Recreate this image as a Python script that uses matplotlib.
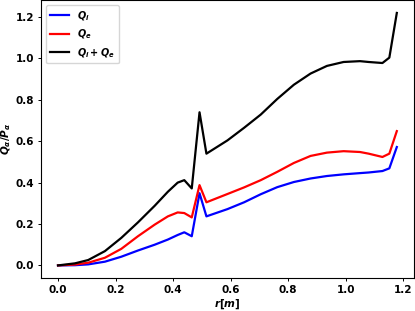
import numpy as np
import matplotlib
matplotlib.use("Agg")
import matplotlib.pyplot as plt

# ── Data ──────────────────────────────────
r = [0.0, 0.059, 0.105, 0.163, 0.220, 0.278, 0.336, 0.382, 0.416, 0.439,
     0.465, 0.492, 0.516, 0.589, 0.647, 0.705, 0.762, 0.820, 0.878, 0.935,
     0.993, 1.050, 1.080, 1.128, 1.152, 1.178]

q_i = [0.0, 0.001, 0.005, 0.018, 0.042, 0.072, 0.100, 0.125, 0.147, 0.160,
       0.141, 0.349, 0.237, 0.272, 0.305, 0.344, 0.378, 0.403, 0.420, 0.432,
       0.440, 0.446, 0.449, 0.456, 0.469, 0.572]

q_e = [0.0, 0.004, 0.013, 0.037, 0.080, 0.141, 0.197, 0.237, 0.256, 0.253,
       0.232, 0.388, 0.305, 0.345, 0.377, 0.412, 0.452, 0.495, 0.529, 0.545,
       0.552, 0.548, 0.540, 0.524, 0.540, 0.649]

q_tot = [0.0, 0.010, 0.026, 0.069, 0.133, 0.208, 0.288, 0.356, 0.400, 0.412,
         0.372, 0.740, 0.540, 0.604, 0.665, 0.729, 0.804, 0.873, 0.927, 0.964,
         0.983, 0.987, 0.983, 0.978, 1.004, 1.220]

# ── Style ─────────────────────────────────
plt.rcParams["font.weight"] = "bold"
plt.rcParams["axes.labelweight"] = "bold"
plt.rcParams["mathtext.fontset"] = "custom"
plt.rcParams["mathtext.it"] = "DejaVu Sans:italic:bold"
plt.rcParams["mathtext.rm"] = "DejaVu Sans:bold"
plt.rcParams["mathtext.bf"] = "DejaVu Sans:bold"

fig, ax = plt.subplots(figsize=(4.15, 3.11), dpi=100)
fig.subplots_adjust(left=0.099, right=0.997, bottom=0.106, top=0.999)

ax.plot(r, q_i, color="b", lw=1.6, label=r"$Q_i$")
ax.plot(r, q_e, color="r", lw=1.6, label=r"$Q_e$")
ax.plot(r, q_tot, color="k", lw=1.6, label=r"$Q_i+Q_e$")

ax.tick_params(labelsize=7.5, length=2.5, width=0.7, pad=2.5)
for s in ax.spines.values():
    s.set_linewidth(0.8)

ax.set_xlabel(r"$r[m]$", fontsize=7.5, labelpad=2)
ax.set_ylabel(r"$Q_\alpha/P_\alpha$", fontsize=7.5, labelpad=1.5)
ax.legend(loc="upper left", fontsize=7)

fig.savefig("out.png", dpi=100)
